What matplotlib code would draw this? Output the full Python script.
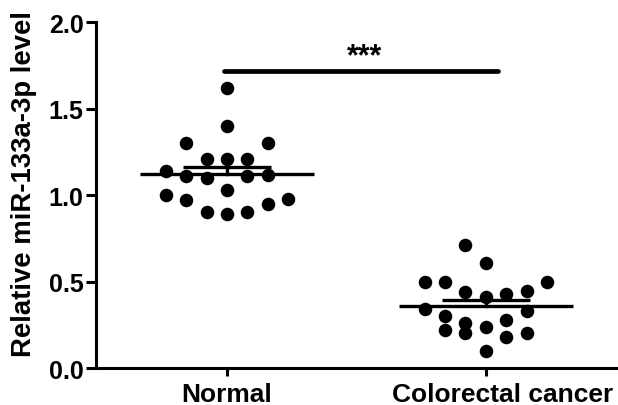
import matplotlib
matplotlib.use("Agg")
import matplotlib.pyplot as plt
import matplotlib.transforms as mtransforms
import numpy as np

plt.rcParams["font.family"] = ["Liberation Sans", "DejaVu Sans"]
plt.rcParams["font.weight"] = "bold"

# group names and read-off values (relative miR-133a-3p level)
groups = ["Normal", "Colorectal cancer"]
normal_vals = [1.62, 1.40, 1.30, 1.30, 1.21, 1.21, 1.21, 1.14, 1.11, 1.10,
               1.11, 1.115, 1.03, 1.00, 0.97, 0.98, 0.95, 0.90, 0.89, 0.90]
normal_cols = [0, 0, -2, 2, -1, 0, 1, -3, -2, -1,
               1, 2, 0, -3, -2, 3, 2, -1, 0, 1]
cancer_vals = [0.71, 0.61, 0.50, 0.50, 0.50, 0.44, 0.41, 0.43, 0.445, 0.34,
               0.33, 0.30, 0.26, 0.28, 0.24, 0.22, 0.20, 0.20, 0.18, 0.10]
cancer_cols = [-1, 0, -3, -2, 3, -1, 0, 1, 2, -3,
               2, -2, -1, 1, 0, -2, -1, 2, 1, 0]
sig_label = "***"

fig = plt.figure(figsize=(6.18, 4.06), dpi=100)
ax = fig.add_axes([0.1553, 0.0911, 0.843, 0.852])

step = 0.079  # horizontal spacing between scatter columns
for i, (vals, cols) in enumerate([(normal_vals, normal_cols), (cancer_vals, cancer_cols)]):
    vals = np.array(vals)
    xs = i + np.array(cols) * step
    ax.scatter(xs, vals, s=95, color="black", zorder=3, linewidths=0)

    # mean line and SEM cap
    mean = vals.mean()
    sem = vals.std(ddof=1) / np.sqrt(len(vals))
    ax.plot([i - 0.335, i + 0.335], [mean, mean], color="black", lw=2.4,
            solid_capstyle="butt", zorder=4)
    ax.plot([i - 0.17, i + 0.17], [mean + sem, mean + sem], color="black", lw=2.4,
            solid_capstyle="butt", zorder=4)
    ax.plot([i, i], [mean, mean + sem], color="black", lw=2.4, zorder=4)

# significance bar
ax.plot([-0.012, 1.046], [1.717, 1.717], color="black", lw=3.4,
        solid_capstyle="round", zorder=4)
ax.text(0.533, 1.80, sig_label, ha="center", va="center", fontsize=22,
        fontweight="bold")

ax.set_xlim(-0.506, 1.506)
ax.set_ylim(0, 2.0)
ax.set_yticks([0.0, 0.5, 1.0, 1.5, 2.0])
ax.set_yticklabels(["0.0", "0.5", "1.0", "1.5", "2.0"])
ax.set_xticks([0, 1])
ax.set_xticklabels(groups, fontsize=19, fontweight="bold")
ax.tick_params(axis="y", labelsize=18, width=2.2, length=7, direction="out", pad=2)
ax.tick_params(axis="x", width=2.2, length=6, direction="out", pad=4)
ax.set_ylabel("Relative miR-133a-3p level", fontsize=19.8, fontweight="bold")
ax.yaxis.set_label_coords(-0.114, 0.535)

# the second category label sits a little right of its tick in the original
lab = ax.get_xticklabels()[1]
lab.set_transform(lab.get_transform() +
                  mtransforms.ScaledTranslation(0.17, 0, fig.dpi_scale_trans))

for side in ["top", "right"]:
    ax.spines[side].set_visible(False)
for side in ["left", "bottom"]:
    ax.spines[side].set_linewidth(2.2)

fig.savefig("out.png", dpi=100)
